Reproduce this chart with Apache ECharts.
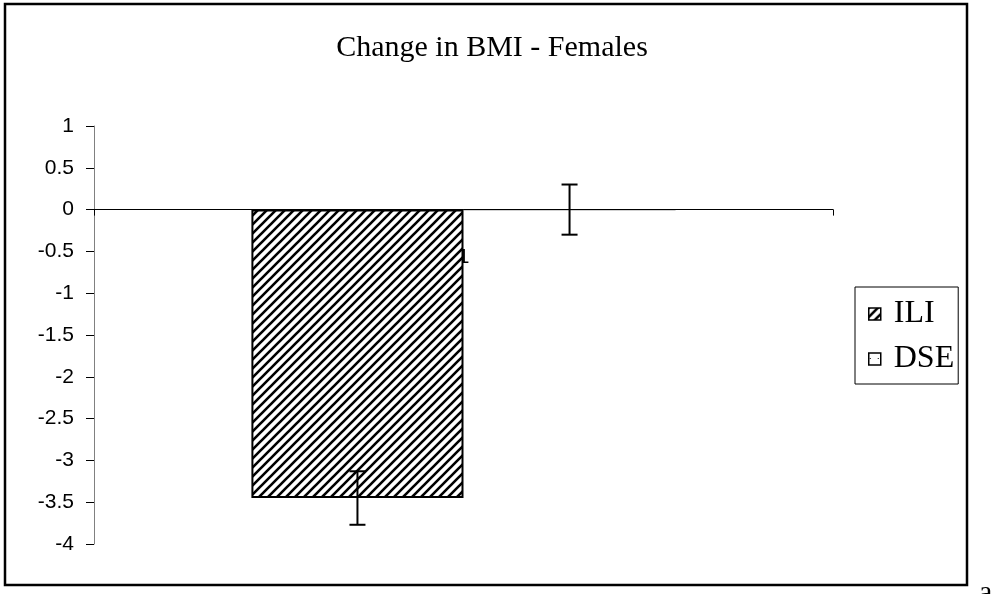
<!DOCTYPE html>
<html>
<head>
<meta charset="utf-8">
<script src="https://cdn.jsdelivr.net/npm/echarts@6/dist/echarts.min.js"></script>
<style>
html,body{margin:0;padding:0;background:#fff;}
#main{width:997px;height:594px;}
</style>
</head>
<body>
<div id="main"></div>
<script>
var chartTitle = 'Change in BMI - Females';
var categories = ['1'];
var seriesNames = ['ILI', 'DSE'];
var iliValues = [-3.45];
var dseValues = [0];
var iliErrors = [0.32];
var dseErrors = [0.3];
var yTicks = { min: -4, max: 1, interval: 0.5 };

function hatchPattern() {
  var c = document.createElement('canvas');
  c.width = 9; c.height = 9;
  var g = c.getContext('2d');
  g.fillStyle = '#fff'; g.fillRect(0, 0, 9, 9);
  g.strokeStyle = '#000'; g.lineWidth = 2.6;
  g.beginPath();
  g.moveTo(-1, 10); g.lineTo(10, -1);
  g.moveTo(-5.5, 5.5); g.lineTo(5.5, -5.5);
  g.moveTo(3.5, 14.5); g.lineTo(14.5, 3.5);
  g.stroke();
  return c;
}
function dotPattern() {
  var c = document.createElement('canvas');
  c.width = 8; c.height = 8;
  var g = c.getContext('2d');
  g.fillStyle = '#fff'; g.fillRect(0, 0, 8, 8);
  g.fillStyle = '#000'; g.fillRect(1, 5, 1, 1);
  return c;
}
var hatch = hatchPattern();
var dots = dotPattern();

var chart = echarts.init(document.getElementById('main'), null, { renderer: 'canvas' });

function errorSeries(values, errors, side, name) {
  return {
    type: 'custom',
    name: name + ' err',
    z: 5,
    data: values.map(function (v, i) { return [i, v, v - errors[i], v + errors[i]]; }),
    renderItem: function (params, api) {
      var cat = api.value(0);
      var lo = api.coord([cat, api.value(2)]);
      var hi = api.coord([cat, api.value(3)]);
      var w = api.size([1, 0])[0];
      var x = lo[0] + side * w * 0.1435;
      var cap = 8;
      var st = { stroke: '#000', lineWidth: 2 };
      return {
        type: 'group',
        children: [
          { type: 'line', shape: { x1: x, y1: lo[1], x2: x, y2: hi[1] }, style: st },
          { type: 'line', shape: { x1: x - cap, y1: lo[1], x2: x + cap, y2: lo[1] }, style: st },
          { type: 'line', shape: { x1: x - cap, y1: hi[1], x2: x + cap, y2: hi[1] }, style: st }
        ]
      };
    }
  };
}

chart.setOption({
  animation: false,
  backgroundColor: '#fff',
  title: {
    text: chartTitle,
    left: 487, top: 28, textAlign: 'center',
    textStyle: { fontFamily: 'Liberation Serif', fontSize: 30, fontWeight: 'normal', color: '#000' }
  },
  legend: {
    data: [
      { name: seriesNames[0], itemStyle: { color: { image: hatch, repeat: 'repeat' }, borderColor: '#000', borderWidth: 1.5 } },
      { name: seriesNames[1], itemStyle: { color: { image: dots, repeat: 'repeat' }, borderColor: '#000', borderWidth: 1.5 } }
    ],
    orient: 'vertical',
    left: 855, top: 287,
    width: 104,
    padding: [11, 4, 9, 13],
    itemGap: 13,
    itemWidth: 12, itemHeight: 12,
    icon: 'rect',
    borderColor: '#000', borderWidth: 1,
    textStyle: { fontFamily: 'Liberation Serif', fontSize: 32, color: '#000', padding: [0, 0, 0, 8] }
  },
  grid: { left: 94, right: 164, top: 126, bottom: 50, containLabel: false },
  xAxis: {
    type: 'category',
    data: categories,
    axisLine: { onZero: true, lineStyle: { color: '#000', width: 1 } },
    axisTick: { show: true, length: 6, lineStyle: { color: '#000' } },
    axisLabel: { show: true, margin: -297, fontFamily: 'Liberation Sans', fontSize: 21, color: '#000' },
    splitLine: { show: false }
  },
  yAxis: {
    type: 'value',
    min: yTicks.min, max: yTicks.max, interval: yTicks.interval,
    axisLine: { show: true, lineStyle: { color: '#808080', width: 1 } },
    axisTick: { show: true, length: 8, lineStyle: { color: '#000' } },
    axisLabel: { margin: 20, fontFamily: 'Liberation Sans', fontSize: 21, color: '#000' },
    splitLine: { show: false }
  },
  series: [
    {
      name: seriesNames[0], type: 'bar', data: iliValues,
      barGap: '0%', barCategoryGap: '42.6%',
      itemStyle: { color: { image: hatch, repeat: 'repeat' }, borderColor: '#000', borderWidth: 2 }
    },
    {
      name: seriesNames[1], type: 'bar', data: dseValues,
      barGap: '0%', barCategoryGap: '42.6%',
      itemStyle: { color: { image: dots, repeat: 'repeat' }, borderColor: '#000', borderWidth: 1 }
    },
    errorSeries(iliValues, iliErrors, -1, seriesNames[0]),
    errorSeries(dseValues, dseErrors, 1, seriesNames[1])
  ],
  graphic: [
    { type: 'rect', shape: { x: 5, y: 4, width: 962, height: 581 }, style: { fill: null, stroke: '#000', lineWidth: 2.5 }, silent: true, z: 10 },
    { type: 'text', left: 979, top: 578, style: { text: 'a', fontFamily: 'Liberation Serif', fontSize: 30, fill: '#000' }, z: 10 }
  ]
});
</script>
</body>
</html>
